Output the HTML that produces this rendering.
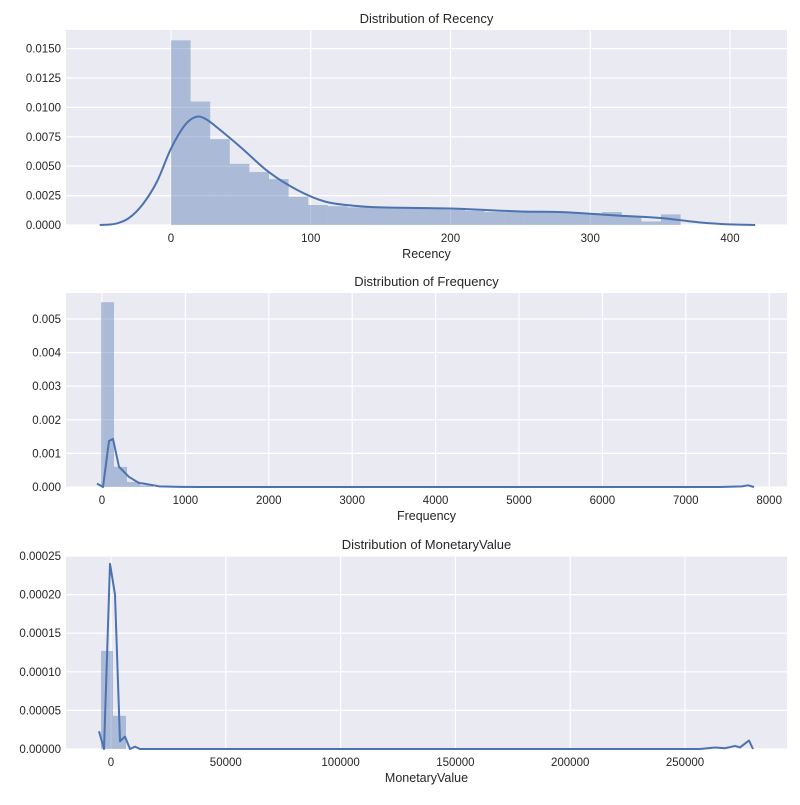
<!DOCTYPE html>
<html><head><meta charset="utf-8"><style>
body{margin:0;background:#fff;}
svg text{font-family:"Liberation Sans",Arial,sans-serif;fill:#262626;}
</style></head><body>
<svg id="s" width="800" height="800" xmlns="http://www.w3.org/2000/svg"></svg>
<script>
const s=document.getElementById('s');let h='';
const L=66,R=787;
function cr(p){let d='M'+p[0][0]+','+p[0][1];for(let i=0;i<p.length-1;i++){const p0=p[i-1]||p[i],p1=p[i],p2=p[i+1],p3=p[i+2]||p2;
d+=` C${p1[0]+(p2[0]-p0[0])/6},${p1[1]+(p2[1]-p0[1])/6} ${p2[0]-(p3[0]-p1[0])/6},${p2[1]-(p3[1]-p1[1])/6} ${p2[0]},${p2[1]}`;}return d;}
function axes(top,bot,title,xlabel,xt,yt,ylab,xfn,yfn,bars,curve,smooth){
 h+=`<rect x="${L}" y="${top}" width="${R-L}" height="${bot-top}" fill="#eaeaf2"/>`;
 yt.forEach((v,i)=>{const y=yfn(v);h+=`<line x1="${L}" x2="${R}" y1="${y}" y2="${y}" stroke="#fff" stroke-width="1.2"/><text x="61" y="${y+4}" font-size="11.5" text-anchor="end">${ylab[i]}</text>`;});
 xt.forEach(v=>{const x=xfn(v);h+=`<line x1="${x}" x2="${x}" y1="${top}" y2="${bot}" stroke="#fff" stroke-width="1.2"/><text x="${x}" y="${bot+17}" font-size="11.5" text-anchor="middle">${v}</text>`;});
 bars.forEach(b=>{const y=yfn(b[2]);h+=`<rect x="${b[0]}" y="${y}" width="${b[1]-b[0]}" height="${bot-y}" fill="#4c72b0" fill-opacity="0.4"/>`;});
 const pts=curve.map(p=>[p[0],yfn(p[1])]);
 if(smooth) h+=`<path fill="none" stroke="#4c72b0" stroke-width="2" d="${cr(pts)}"/>`;
 else h+=`<polyline fill="none" stroke="#4c72b0" stroke-width="2" stroke-linejoin="round" points="${pts.map(p=>p[0]+','+p[1]).join(' ')}"/>`;
 h+=`<text x="${(L+R)/2}" y="${top-7}" font-size="13" text-anchor="middle">${title}</text>`;
 h+=`<text x="${(L+R)/2}" y="${bot+33}" font-size="12.5" text-anchor="middle">${xlabel}</text>`;
}
let b1=[],hs=[0.0157,0.0105,0.0073,0.0052,0.0045,0.0039,0.0024,0.0017,0.0016,0.0015,0.0015,0.0015,0.0014,0.0014,0.0013,0.0012,0.0011,0.0011,0.0012,0.0011,0.0011,0.0010,0.0011,0.0007,0.0003,0.0009];
hs.forEach((v,i)=>b1.push([171+19.6*i,171+19.6*(i+1),v]));
const c1=[[-51,0],[-40,0.0001],[-30,0.0006],[-20,0.0018],[-10,0.0037],[0,0.0065],[10,0.0085],[18,0.0092],[25,0.0090],[35,0.0081],[50,0.0066],[70,0.0045],[90,0.0030],[110,0.0020],[130,0.00165],[150,0.0015],[200,0.0014],[250,0.00115],[280,0.0011],[320,0.0008],[350,0.0006],[380,0.0002],[400,0.00005],[418,0]].map(p=>[171+1.3975*p[0],p[1]]);
axes(30,225,'Distribution of Recency','Recency',[0,100,200,300,400],[0,0.0025,0.005,0.0075,0.01,0.0125,0.015],['0.0000','0.0025','0.0050','0.0075','0.0100','0.0125','0.0150'],u=>171+1.3975*u,v=>225-v*11760,b1,c1,true);
const b2=[[101,114,0.0055],[114,127,0.0006],[127,140,0.00015],[140,153,0.00005]];
const c2=[[97,0.0001],[103,0],[109,0.00137],[113,0.00143],[119,0.0006],[129,0.0003],[139,0.00012],[144,0.0001],[159,0.00002],[180,0.000005],[200,0],[720,0],[742,0.00002],[748,0.00005],[754,0]];
axes(293,487,'Distribution of Frequency','Frequency',[0,1000,2000,3000,4000,5000,6000,7000,8000],[0,0.001,0.002,0.003,0.004,0.005],['0.000','0.001','0.002','0.003','0.004','0.005'],u=>102+0.0834*u,v=>487-v*33600,b2,c2,false);
const b3=[[101,113,0.000127],[113,126,0.000043]];
const c3=[[99,0.000023],[104,0],[110,0.00024],[115,0.0002],[120,0.00001],[125,0.000016],[130,0],[135,0.000003],[140,0],[700,0],[715,0.000002],[725,0.000001],[735,0.000004],[740,0.000002],[745,0.000007],[749,0.000011],[753,0]];
axes(556,749,'Distribution of MonetaryValue','MonetaryValue',[0,50000,100000,150000,200000,250000],[0,0.00005,0.0001,0.00015,0.0002,0.00025],['0.00000','0.00005','0.00010','0.00015','0.00020','0.00025'],u=>111+0.002296*u,v=>749-v*772000,b3,c3,false);
s.innerHTML=h;
</script>
</body></html>
